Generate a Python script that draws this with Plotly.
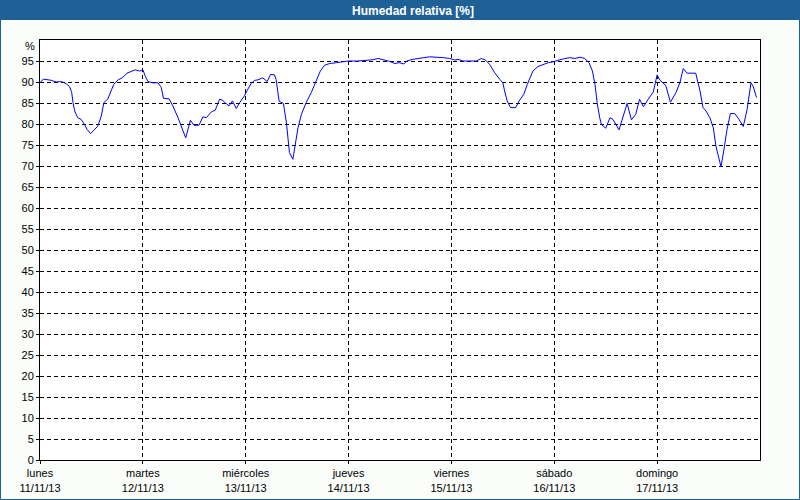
import plotly.graph_objects as go

# Time in hours from Monday 11/11/13 00:00, relative humidity in %
hours = [0.0, 0.8, 1.4, 2.6, 3.8, 4.6, 5.3, 6.1, 6.9, 7.4, 7.7, 8.1, 8.8, 9.6, 10.4, 11.0, 11.8, 12.6, 13.5, 14.3,
         14.9, 15.8, 16.5, 17.2, 18.2, 19.2, 20.3, 21.3, 22.2, 23.2, 24.0, 24.6, 25.2, 26.3, 27.5, 28.3, 28.8, 30.1,
         31.0, 32.2, 33.2, 34.0, 35.1, 35.9, 37.1, 38.0, 38.8, 40.0, 40.9, 41.9, 42.5, 43.3, 44.1, 44.9, 45.8, 46.6,
         47.7, 48.5, 49.3, 50.1, 50.8, 52.0, 53.0, 53.8, 54.7, 55.1, 55.5, 55.8, 56.8, 57.5, 57.9, 58.2, 59.0, 59.7,
         60.2, 61.0, 62.1, 63.3, 64.5, 65.4, 66.4, 67.6, 69.2, 70.7, 71.9, 74.2, 76.2, 77.7, 78.9, 80.4, 81.6, 82.8,
         83.8, 84.9, 85.6, 87.0, 88.6, 90.9, 94.0, 95.6, 96.8, 97.5, 98.7, 101.8, 103.0, 104.0, 104.9, 106.1, 107.3,
         108.0, 108.4, 109.0, 109.8, 111.0, 111.8, 112.9, 113.7, 114.3, 115.0, 116.2, 117.4, 118.6, 119.7, 120.9,
         122.1, 123.6, 124.8, 126.0, 127.1, 128.1, 128.9, 129.5, 130.0, 130.6, 131.0, 132.0, 133.0, 133.7, 135.1,
         136.1, 137.0, 138.0, 139.0, 139.9, 140.8, 141.9, 143.1, 144.0, 144.6, 146.0, 147.1, 148.4, 149.3, 150.1,
         151.0, 153.0, 154.0, 154.7, 155.4, 156.3, 157.1, 157.7, 158.9, 159.6, 160.3, 161.1, 162.1, 163.1, 164.1,
         165.0, 165.9, 166.4, 167.2]
humidity = [89.8, 90.7, 90.6, 90.4, 90.0, 90.1, 90.0, 89.6, 88.9, 87.5, 85.1, 83.1, 81.5, 81.1, 79.9, 78.7, 77.7, 78.5, 79.5, 81.9,
            85.1, 85.9, 87.5, 89.4, 90.5, 91.0, 92.1, 92.5, 92.9, 92.6, 92.9, 91.3, 90.1, 89.8, 89.8, 88.7, 86.1, 86.0,
            84.3, 81.5, 78.7, 76.7, 80.9, 79.7, 79.7, 81.7, 81.5, 82.9, 83.3, 85.9, 85.7, 85.1, 84.3, 85.5, 83.7, 85.1,
            86.7, 88.3, 89.7, 90.4, 90.5, 91.0, 90.1, 91.8, 91.7, 90.6, 87.5, 85.4, 84.9, 80.3, 76.3, 73.2, 71.6, 75.6,
            79.1, 82.3, 85.1, 87.5, 90.2, 92.6, 94.0, 94.4, 94.6, 94.8, 95.0, 95.0, 95.2, 95.3, 95.6, 95.3, 94.9, 94.4,
            94.6, 94.3, 95.0, 95.4, 95.6, 96.0, 95.8, 95.6, 95.2, 95.4, 95.0, 95.0, 95.6, 95.2, 94.2, 92.2, 90.6,
            89.8, 87.9, 85.5, 83.9, 83.9, 85.5, 87.1, 89.4, 91.0, 92.6, 93.7, 94.2, 94.6, 94.8, 95.2,
            95.5, 95.8, 95.6, 95.9, 95.6, 94.6, 92.6, 89.4, 85.1, 81.5, 79.9, 79.0, 81.5, 81.1, 78.6,
            81.9, 84.9, 81.0, 82.3, 85.9, 84.1, 85.9, 87.6, 91.7, 90.5, 89.2, 85.2, 87.5, 89.8, 93.2,
            92.1, 92.1, 87.9, 83.9, 83.1, 81.5, 79.1, 74.8, 69.8, 74.0, 78.7, 82.5, 82.5, 81.1, 79.4,
            83.5, 89.8, 89.0, 86.3]

day_hours = [0, 24, 48, 72, 96, 120, 144]
day_names = ["lunes", "martes", "miércoles", "jueves", "viernes", "sábado", "domingo"]
day_dates = ["11/11/13", "12/11/13", "13/11/13", "14/11/13", "15/11/13", "16/11/13", "17/11/13"]
y_ticks = list(range(0, 100, 5))

BLUE = "#1f6196"
FONT = "Liberation Sans"

fig = go.Figure()
fig.add_trace(go.Scatter(x=hours, y=humidity, mode="lines",
                         line=dict(color="#0000ff", width=1), hoverinfo="skip"))

W, H = 800, 500
L, R, T, B = 40, 40, 40, 40
pw, ph = W - L - R, H - T - B


def px(xp):
    return (xp - L) / pw


def py(yp):
    return (H - B - yp) / ph


fig.update_layout(
    width=W, height=H,
    margin=dict(l=L, r=R, t=T, b=B, autoexpand=False),
    paper_bgcolor="#fbfdfb",
    plot_bgcolor="#ffffff",
    showlegend=False,
    font=dict(family=FONT, size=11, color="#000000"),
    xaxis=dict(range=[0, 168], tickvals=day_hours,
               ticktext=[f"{n}<br>{d}" for n, d in zip(day_names, day_dates)],
               showgrid=True, gridcolor="#000000", gridwidth=1, griddash="4px,3px",
               showline=True, linecolor="#000000", linewidth=1, mirror=True,
               ticks="outside", ticklen=3, tickcolor="#000000", zeroline=False,
               automargin=False,
               tickfont=dict(family=FONT, size=11)),
    yaxis=dict(range=[0, 100], tickvals=y_ticks,
               showgrid=True, gridcolor="#000000", gridwidth=1, griddash="4px,3px",
               showline=True, linecolor="#000000", linewidth=1, mirror=True,
               ticks="outside", ticklen=3, tickcolor="#000000", zeroline=False,
               automargin=False,
               tickfont=dict(family=FONT, size=11)),
    shapes=[
        dict(type="rect", xref="paper", yref="paper", x0=px(0), x1=px(W), y0=py(20), y1=py(0),
             fillcolor=BLUE, line=dict(width=0), layer="below"),
        dict(type="rect", xref="paper", yref="paper", x0=px(0.5), x1=px(W - 0.5), y0=py(H - 0.5), y1=py(0.5),
             fillcolor="rgba(0,0,0,0)", line=dict(color=BLUE, width=1)),
    ],
    annotations=[
        dict(text="<b>Humedad relativa [%]</b>", xref="paper", yref="paper", x=px(413), y=py(10.5),
             xanchor="center", yanchor="middle", showarrow=False,
             font=dict(family=FONT, size=12, color="#ffffff")),
        dict(text="%", xref="paper", yref="paper", x=px(37), y=py(46),
             xanchor="right", yanchor="middle", showarrow=False,
             font=dict(family=FONT, size=11, color="#000000")),
    ],
)

fig.write_html("out.html", config={"displayModeBar": False},
               post_script="document.body.style.margin='0';document.body.style.overflow='hidden';")
